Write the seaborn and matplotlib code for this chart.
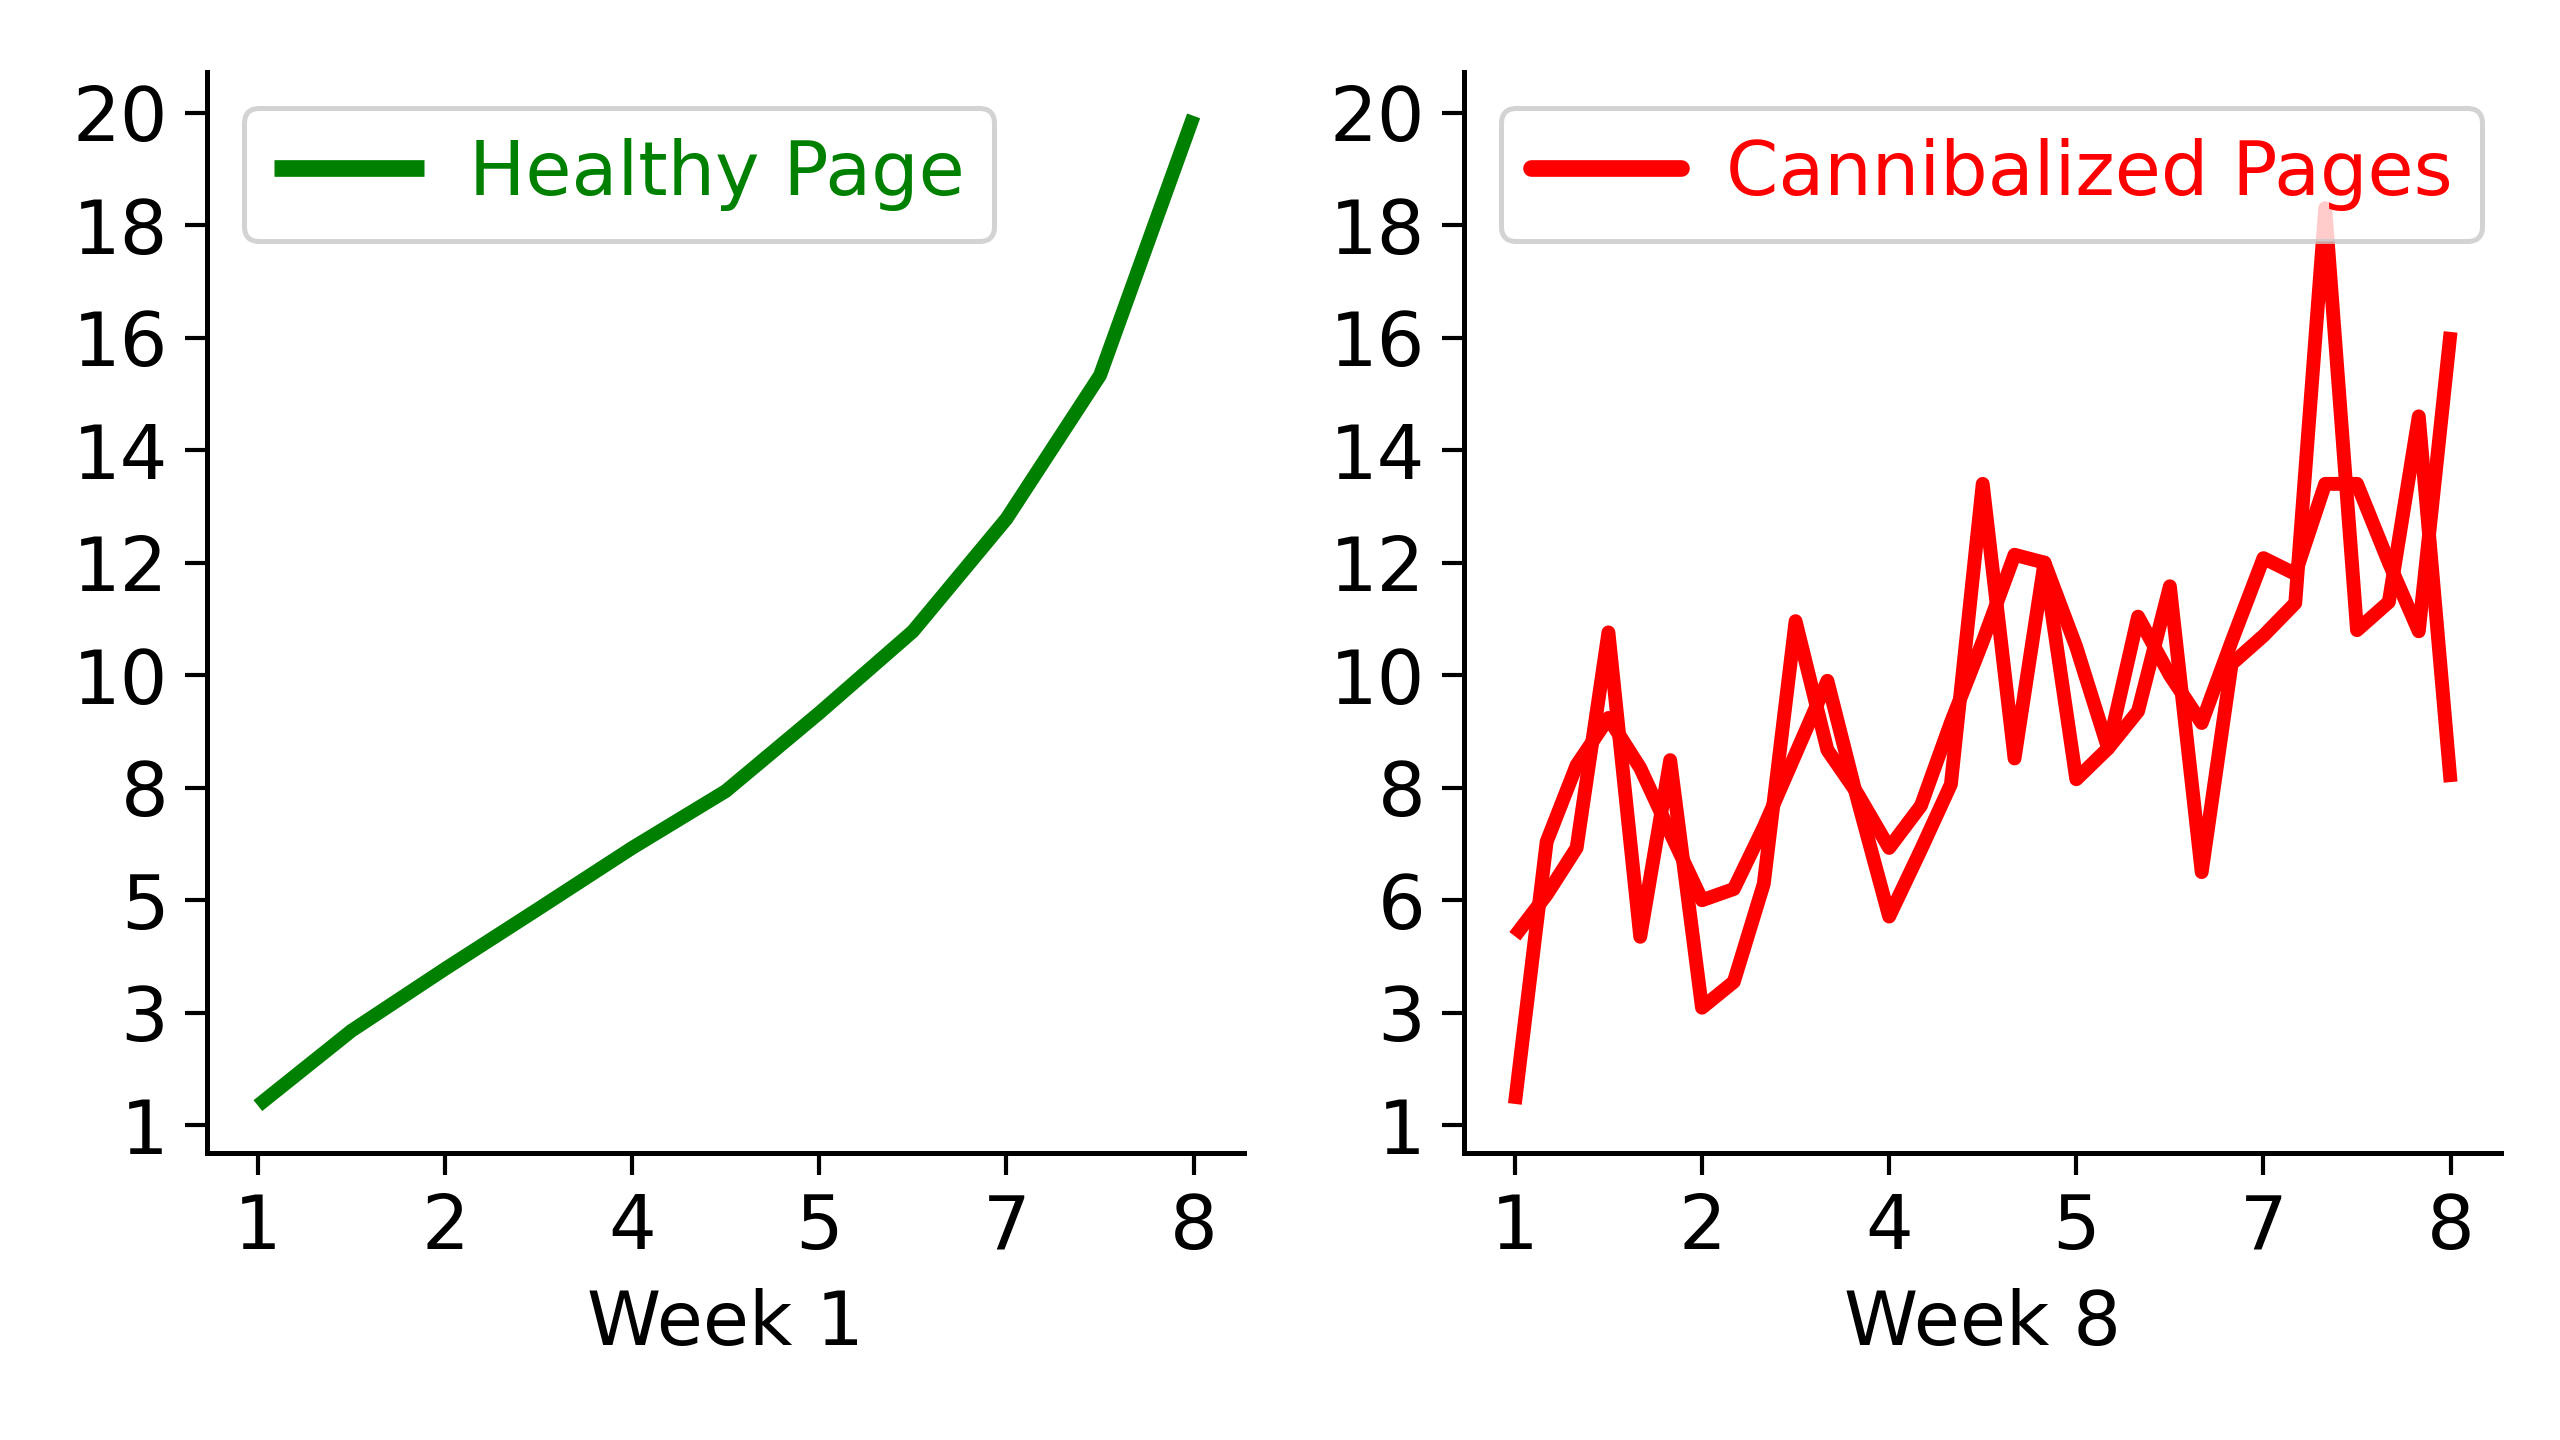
import matplotlib
matplotlib.use("Agg")
import matplotlib.pyplot as plt
import seaborn as sns
import pandas as pd

# tick positions and their (odd) printed labels
x_ticks = [0, 1, 2, 3, 4, 5]
x_labels = ["1", "2", "4", "5", "7", "8"]
y_ticks = [2, 4, 6, 8, 10, 12, 14, 16, 18, 20]
y_labels_healthy = ["1", "3", "5", "8", "10", "12", "14", "16", "18", "20"]
y_labels_cannib = ["1", "3", "6", "8", "10", "12", "14", "16", "18", "20"]

# healthy page, week 1
healthy_x = [0, 0.5, 1, 1.5, 2, 2.5, 3, 3.5, 4, 4.5, 5]
healthy_y = [2.35, 3.68, 4.78, 5.85, 6.93, 7.94, 9.33, 10.78, 12.78, 15.33, 19.94]

# cannibalized pages, week 8
cannib_x = [0, 0.17, 0.33, 0.5, 0.67, 0.83, 1.0, 1.17, 1.33, 1.5,
            1.67, 1.83, 2.0, 2.17, 2.33, 2.5, 2.67, 2.83, 3.0, 3.17,
            3.33, 3.5, 3.67, 3.83, 4.0, 4.17, 4.33, 4.5, 4.67, 4.83, 5.0]
page_a = [2.38, 7.04, 8.4, 9.24, 8.35, 7.2, 6.0, 6.2, 7.3, 8.6,
          9.9, 7.8, 5.71, 6.9, 8.06, 13.4, 8.52, 12.0, 8.15, 8.7,
          9.36, 11.58, 6.5, 10.2, 10.7, 11.28, 18.3, 10.8, 11.3, 14.6, 8.1]
page_b = [5.36, 6.1, 6.93, 10.76, 5.35, 8.49, 4.09, 4.55, 6.29, 10.96,
          8.67, 7.9, 6.93, 7.68, 9.16, 10.6, 12.14, 12.0, 10.5, 8.7,
          11.04, 10.0, 9.15, 10.6, 12.08, 11.8, 13.4, 13.4, 12.0, 10.78, 16.1]

sns.set_style("ticks", rc={"axes.edgecolor": "black", "text.color": "black",
                           "axes.labelcolor": "black", "xtick.color": "black",
                           "ytick.color": "black"})
plt.rcParams['font.family'] = ['DejaVu Sans']

fig = plt.figure(figsize=(12.8, 7.2), dpi=200)
fig.patch.set_facecolor("white")
ax1 = fig.add_axes([0.081, 0.199, 0.405, 0.751])
ax2 = fig.add_axes([0.572, 0.199, 0.405, 0.751])

lw = 5
sns.lineplot(x=healthy_x, y=healthy_y, ax=ax1, color="green", linewidth=lw,
             label="Healthy Page", solid_capstyle="butt", solid_joinstyle="round")

df = pd.DataFrame({"x": cannib_x + cannib_x,
                   "y": page_a + page_b,
                   "page": ["A"] * len(page_a) + ["B"] * len(page_b)})
sns.lineplot(data=df, x="x", y="y", units="page", estimator=None, ax=ax2,
             color="red", linewidth=lw, solid_capstyle="butt", solid_joinstyle="round")
ax2.plot([], [], color="red", linewidth=lw, label="Cannibalized Pages")

for ax, ylabels, xlabel, col in [(ax1, y_labels_healthy, "Week 1", "green"),
                                 (ax2, y_labels_cannib, "Week 8", "red")]:
    ax.set_xlim(-0.27, 5.27)
    ax.set_ylim(1.5, 20.72)
    ax.set_xticks(x_ticks)
    ax.set_xticklabels(x_labels)
    ax.set_yticks(y_ticks)
    ax.set_yticklabels(ylabels)
    ax.set_xlabel(xlabel, fontsize=27, labelpad=8)
    ax.set_ylabel("")
    ax.tick_params(axis="both", labelsize=27, length=8, width=1.5, pad=6)
    for s in ["left", "bottom"]:
        ax.spines[s].set_linewidth(1.8)
    sns.despine(ax=ax)
    leg = ax.legend(loc="upper left", fontsize=27, handlelength=2.0,
                    handletextpad=0.6, borderpad=0.4, frameon=True, fancybox=True,
                    borderaxespad=0, bbox_to_anchor=(0.035, 0.967))
    leg.get_frame().set_edgecolor("#c8c8c8")
    leg.get_frame().set_linewidth(1.8)
    for line in leg.get_lines():
        line.set_linewidth(6)
    for t in leg.get_texts():
        t.set_color(col)

fig.savefig("out.png", dpi=200, facecolor="white")
